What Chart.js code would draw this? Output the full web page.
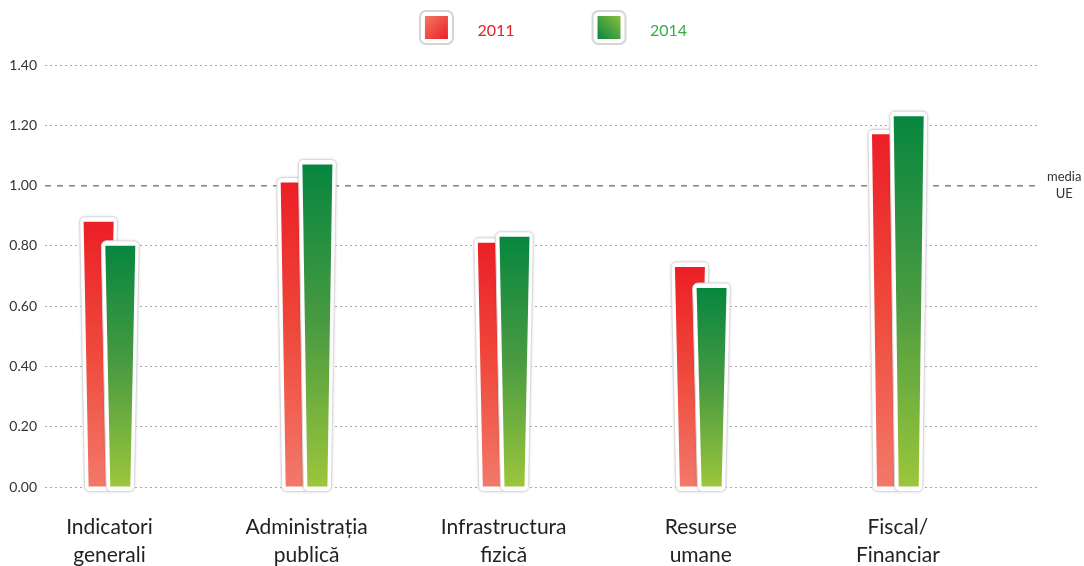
<!DOCTYPE html>
<html>
<head>
<meta charset="utf-8">
<script src="https://cdn.jsdelivr.net/npm/chart.js@4.4.1/dist/chart.umd.min.js"></script>
<style>
  html, body { margin: 0; padding: 0; background: #fff; }
  #wrap { width: 1084px; height: 566px; }
</style>
</head>
<body>
<div id="wrap"><canvas id="indexChart"></canvas></div>
<script>
const categories = ["Indicatori generali", "Administrația publică", "Infrastructura fizică", "Resurse umane", "Fiscal/Financiar"];
const tickLabels = [["Indicatori", "generali"], ["Administrația", "publică"], ["Infrastructura", "fizică"], ["Resurse", "umane"], ["Fiscal/", "Financiar"]];
const years = ["2011", "2014"];
const values2011 = [0.88, 1.01, 0.81, 0.73, 1.17];
const values2014 = [0.80, 1.07, 0.83, 0.66, 1.23];
const yTicks = [0, 0.2, 0.4, 0.6, 0.8, 1.0, 1.2, 1.4];
const euAverage = 1.0;

Chart.defaults.font.family = "Lato, 'Open Sans', sans-serif";
Chart.defaults.color = "#333";

// bar colours, top -> bottom
const redStops = ["#ec1f26", "#ef4a3c", "#f2796a"];
const greenStops = ["#07863f", "#4a9b41", "#9cc63b"];

function barGradient(ctx, stops) {
  const chart = ctx.chart;
  if (!chart.chartArea || ctx.type !== "data") return stops[0];
  const yScale = chart.scales.y;
  const top = yScale.getPixelForValue(ctx.parsed.y);
  const bottom = yScale.getPixelForValue(0);
  const g = chart.ctx.createLinearGradient(0, top, 0, bottom);
  g.addColorStop(0, stops[0]);
  g.addColorStop(0.5, stops[1]);
  g.addColorStop(1, stops[2]);
  return g;
}

// small framed square used as legend marker
function legendBox(c1, c2, diagUp) {
  const c = document.createElement("canvas");
  c.width = 64;
  c.height = 46;
  const x = c.getContext("2d");
  x.beginPath();
  x.roundRect(29, 3, 33, 33, 6);
  x.fillStyle = "#fff";
  x.fill();
  x.strokeStyle = "#d4d4d4";
  x.lineWidth = 2;
  x.stroke();
  const g = diagUp ? x.createLinearGradient(34, 31, 57, 8) : x.createLinearGradient(34, 8, 57, 31);
  g.addColorStop(0, c1);
  g.addColorStop(1, c2);
  x.fillStyle = g;
  x.fillRect(34, 8, 23, 23);
  return c;
}

const legendMarkers = [
  legendBox("#f37a64", "#ec1f26", false),
  legendBox("#07863f", "#8cc03f", true)
];
const legendColors = ["#e8202a", "#3aaa48"];

function tracePoly(ctx, pts, r) {
  const n = pts.length;
  ctx.beginPath();
  ctx.moveTo((pts[n - 1][0] + pts[0][0]) / 2, (pts[n - 1][1] + pts[0][1]) / 2);
  for (let i = 0; i < n; i++) {
    const p = pts[i], q = pts[(i + 1) % n];
    ctx.arcTo(p[0], p[1], q[0], q[1], r);
  }
  ctx.closePath();
}

// bars are drawn slightly tapered, inside a white rounded frame
const taperBars = {
  id: "taperBars",
  beforeDatasetDraw(chart, args) {
    const ctx = chart.ctx;
    const taper = 5;
    ctx.save();
    args.meta.data.forEach(bar => {
      const p = bar.getProps(["x", "y", "base", "width"], true);
      const l = p.x - p.width / 2, r = p.x + p.width / 2;
      tracePoly(ctx, [
        [l - 4, p.y - 5], [r + 4, p.y - 5],
        [r + 4 - taper, p.base + 5], [l - 4 + taper, p.base + 5]
      ], 5);
      ctx.shadowColor = "rgba(0,0,0,0.2)";
      ctx.shadowBlur = 3;
      ctx.fillStyle = "#fff";
      ctx.fill();
      ctx.shadowColor = "transparent";
      ctx.strokeStyle = "#d9d9d9";
      ctx.lineWidth = 1;
      ctx.stroke();

      ctx.beginPath();
      ctx.moveTo(l, p.y);
      ctx.lineTo(r, p.y);
      ctx.lineTo(r - taper, p.base);
      ctx.lineTo(l + taper, p.base);
      ctx.closePath();
      ctx.fillStyle = bar.options.backgroundColor;
      ctx.fill();
    });
    ctx.restore();
    return false;
  }
};

// room between legend and plot
const legendSpacing = {
  id: "legendSpacing",
  beforeInit(chart) {
    const fit = chart.legend.fit;
    chart.legend.fit = function () {
      fit.bind(chart.legend)();
      this.height += 16;
    };
  }
};

const ctx = document.getElementById("indexChart");

new Chart(ctx, {
  type: "bar",
  plugins: [taperBars, legendSpacing],
  data: {
    datasets: [{
      label: years[0],
      data: values2011.map((v, i) => ({ x: i - 0.055, y: v })),
      backgroundColor: c => barGradient(c, redStops),
      order: 1
    }, {
      label: years[1],
      data: values2014.map((v, i) => ({ x: i + 0.055, y: v })),
      backgroundColor: c => barGradient(c, greenStops),
      order: 0
    }]
  },
  options: {
    responsive: true,
    maintainAspectRatio: false,
    animation: false,
    grouped: false,
    barThickness: 30,
    layout: { padding: { top: 9, left: 0, right: 0, bottom: 0 } },
    plugins: {
      tooltip: { enabled: false },
      legend: {
        position: "top",
        labels: {
          usePointStyle: true,
          pointStyleWidth: 93,
          padding: 14,
          font: { size: 16 },
          generateLabels: chart => chart.data.datasets.map((ds, i) => ({
            text: ds.label + "     ",
            fontColor: legendColors[i],
            pointStyle: legendMarkers[i],
            datasetIndex: i,
            hidden: false,
            lineWidth: 0
          }))
        }
      }
    },
    scales: {
      x: {
        type: "linear",
        offset: false,
        min: -0.327,
        max: 4.706,
        afterFit: s => { s.height = 79; },
        grid: { display: false },
        border: { display: false },
        ticks: {
          stepSize: 1,
          includeBounds: false,
          autoSkip: false,
          maxRotation: 0,
          padding: 18,
          color: "#222",
          font: { size: 21, lineHeight: 1.34 },
          callback: v => Number.isInteger(v) && tickLabels[v] ? tickLabels[v] : ""
        }
      },
      y: {
        min: yTicks[0],
        max: yTicks[yTicks.length - 1],
        afterFit: s => { s.width = 45; },
        afterBuildTicks: s => { s.ticks = yTicks.map(v => ({ value: v })); },
        grid: {
          drawTicks: false,
          color: c => c.tick && c.tick.value === euAverage ? "#8a8a8a" : "#a8a8a8",
          lineWidth: c => c.tick && c.tick.value === euAverage ? 1.6 : 1
        },
        border: {
          display: false,
          dash: c => c.tick && c.tick.value === euAverage ? [6, 6] : [2, 3]
        },
        ticks: {
          padding: 8,
          color: "#333",
          font: { size: 14 },
          callback: v => v.toFixed(2)
        }
      },
      y2: {
        position: "right",
        min: yTicks[0],
        max: yTicks[yTicks.length - 1],
        afterFit: s => { s.width = 47; },
        afterBuildTicks: s => { s.ticks = [{ value: euAverage }]; },
        grid: { display: false, drawTicks: false },
        border: { display: false },
        ticks: {
          padding: 10,
          crossAlign: "center",
          color: "#333",
          font: { size: 13, lineHeight: 1.3 },
          callback: () => ["media", "UE"]
        }
      }
    }
  }
});
</script>
</body>
</html>
